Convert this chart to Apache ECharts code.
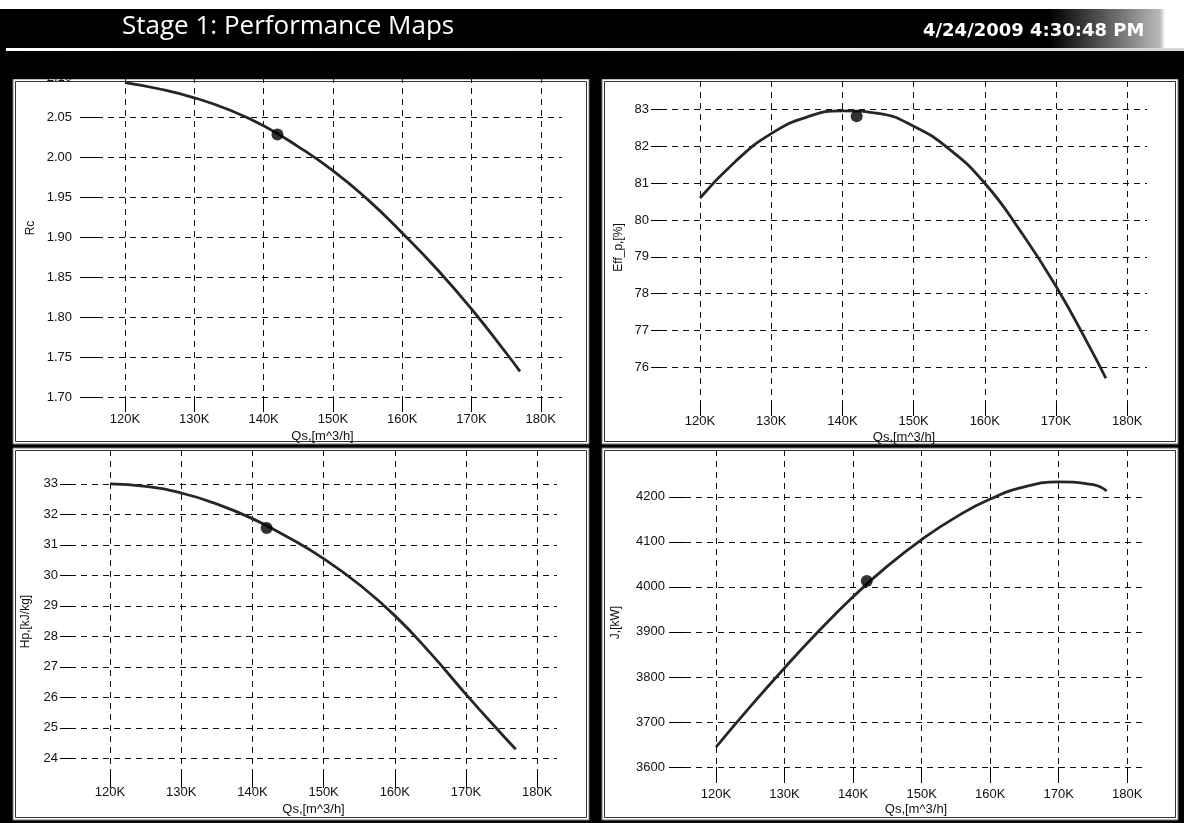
<!DOCTYPE html>
<html><head><meta charset="utf-8">
<script src="https://cdn.jsdelivr.net/npm/echarts@6/dist/echarts.min.js"></script>
<style>html,body{margin:0;padding:0;background:#000;}#c{width:1184px;height:823px;}</style>
</head><body><div id="c"></div>
<script>
// ---- data ----
const qs  = [120000,125000,130000,135000,140000,145000,150000,155000,160000,165000,170000,175000,177000];
const rc  = [2.093,2.085,2.074,2.059,2.039,2.013,1.983,1.947,1.905,1.860,1.810,1.755,1.732];
const eff = [80.6,81.6,82.35,82.8,82.97,82.9,82.55,81.93,81.0,79.7,78.2,76.45,75.7];
const hp  = [33.0,32.92,32.7,32.34,31.86,31.25,30.55,29.7,28.68,27.45,26.1,24.8,24.3];
const jkw = [3644,3734,3820,3902,3978,4046,4105,4155,4195,4222,4233,4227,4213];
const designQs = 142000;
const designRc = 2.028, designEff = 82.82, designHp = 31.55, designJ = 4013;
const qsTicks  = [120000,130000,140000,150000,160000,170000,180000];
const rcTicks  = [1.70,1.75,1.80,1.85,1.90,1.95,2.00,2.05,2.10];
const effTicks = [76,77,78,79,80,81,82,83];
const hpTicks  = [24,25,26,27,28,29,30,31,32,33];
const jTicks   = [3600,3700,3800,3900,4000,4100,4200];
const titleText = 'Stage 1: Performance Maps';
const dateText = '4/24/2009 4:30:48 PM';

const ff = '"Liberation Sans", Arial, sans-serif';
const txt = '#111';
const gridLine = {show:true, lineStyle:{color:'#111', type:[6,5], width:1}};

function xAx(gi, min, max, tickLen, lm, gap, pad){
  return {type:'value', gridIndex:gi, min, max, minInterval:10000, maxInterval:10000,
    name:'Qs,[m^3/h]', nameLocation:'middle', nameGap:gap,
    nameTextStyle:{color:txt, fontSize:13, fontFamily:ff, padding:pad||0},
    axisLine:{show:false},
    axisTick:{show:true, inside:false, length:tickLen, customValues:qsTicks, lineStyle:{color:'#000', width:1}},
    axisLabel:{customValues:qsTicks, margin:lm, color:txt, fontSize:13, fontFamily:ff,
      formatter:v=>Math.round(v/1000)+'K'},
    splitLine:gridLine};
}
function yAx(gi, min, max, step, ticks, dec, name, tickLen, lm, gap, pad){
  return {type:'value', gridIndex:gi, min, max, minInterval:step, maxInterval:step,
    name, nameLocation:'middle', nameGap:gap,
    nameTextStyle:{color:txt, fontSize:12, fontFamily:ff, padding:pad||0},
    axisLine:{show:false},
    axisTick:{show:true, inside:false, length:tickLen, customValues:ticks, lineStyle:{color:'#000', width:1}},
    axisLabel:{customValues:ticks, margin:lm, color:txt, fontSize:13, fontFamily:ff,
      formatter:v=>v.toFixed(dec)},
    splitLine:gridLine};
}
function pairs(ys){ return qs.map((q,k)=>[q, ys[k]]); }
function curve(i, ys){
  return {type:'line', xAxisIndex:i, yAxisIndex:i, data:pairs(ys), smooth:0.5, showSymbol:false,
    lineStyle:{color:'#262626', width:2.8}, silent:true, z:3};
}
function point(i, y){
  return {type:'scatter', xAxisIndex:i, yAxisIndex:i, data:[[designQs, y]], symbolSize:12,
    itemStyle:{color:'#000'}, silent:true, z:4};
}
function panel(x,y,w,h){
  return [
    {type:'rect', z:-10, shape:{x:x, y:y, width:w, height:h}, style:{fill:'#fff', stroke:'#777', lineWidth:1}},
    {type:'rect', z:-9, shape:{x:x+2.5, y:y+2.5, width:w-5, height:h-5}, style:{fill:'none', stroke:'#333', lineWidth:1}}
  ];
}

const chart = echarts.init(document.getElementById('c'), null, {renderer:'canvas'});
chart.setOption({
  animation:false,
  backgroundColor:'#000',
  title:[
    {text:titleText, left:117, top:9, textStyle:{color:'#fff', fontSize:26, fontWeight:'normal', fontFamily:'"Open Sans", sans-serif'}},
    {text:dateText, left:918, top:17, textStyle:{color:'#fff', fontSize:18, fontWeight:'bold', fontFamily:'"DejaVu Sans", sans-serif'}}
  ],
  graphic:[
    {type:'rect', z:-20, shape:{x:0, y:0, width:1184, height:9}, style:{fill:'#fff'}},
    {type:'rect', z:-19, shape:{x:1050, y:9, width:134, height:40},
      style:{fill:new echarts.graphic.LinearGradient(0,0,1,0,[
        {offset:0, color:'rgba(0,0,0,1)'},{offset:0.5, color:'rgba(110,110,110,1)'},
        {offset:0.82, color:'rgba(185,185,185,1)'},{offset:0.86, color:'#fff'},{offset:1, color:'#fff'}])}},
    {type:'rect', z:-19, shape:{x:6, y:48, width:1178, height:3},
      style:{fill:new echarts.graphic.LinearGradient(0,0,1,0,[
        {offset:0, color:'#ffffff'},{offset:1, color:'#d8d8d8'}])}},
    ...panel(13,79,576,365),
    ...panel(602,79,576,365),
    ...panel(13,448,576,372),
    ...panel(602,448,576,372),
    {type:'rect', z:100, shape:{x:0, y:52, width:1184, height:27}, style:{fill:'#000'}}
  ],
  grid:[
    {left:97,  top:77,  width:465, height:320, containLabel:false, outerBoundsMode:'none'},
    {left:661, top:81,  width:486, height:323, containLabel:false, outerBoundsMode:'none'},
    {left:70,  top:450, width:487, height:323, containLabel:false, outerBoundsMode:'none'},
    {left:685, top:450, width:462, height:317, containLabel:false, outerBoundsMode:'none'}
  ],
  xAxis:[
    xAx(0, 115960, 183060, 15, 16, 33, [0,14,0,0]),
    xAx(1, 114520, 182780, 12, 11, 27),
    xAx(2, 114380, 182780, 15, 13, 30),
    xAx(3, 115480, 182880, 16, 21, 36)
  ],
  yAxis:[
    yAx(0, 1.70, 2.10, 0.05, rcTicks, 2, 'Rc', 17, 25, 60, [0,0,0,18]),
    yAx(1, 75, 83.78, 1, effTicks, 0, 'Eff_p,[%]', 10, 12, 36, [0,10,0,0]),
    yAx(2, 23.52, 34.11, 1, hpTicks, 0, 'Hp,[kJ/kg]', 10, 12, 38, [0,20,0,0]),
    yAx(3, 3600, 4304, 100, jTicks, 0, 'J,[kW]', 16, 20, 63, [0,28,0,0])
  ],
  series:[
    curve(0, rc), point(0, designRc),
    curve(1, eff), point(1, designEff),
    curve(2, hp), point(2, designHp),
    curve(3, jkw), point(3, designJ)
  ]
});
</script></body></html>
